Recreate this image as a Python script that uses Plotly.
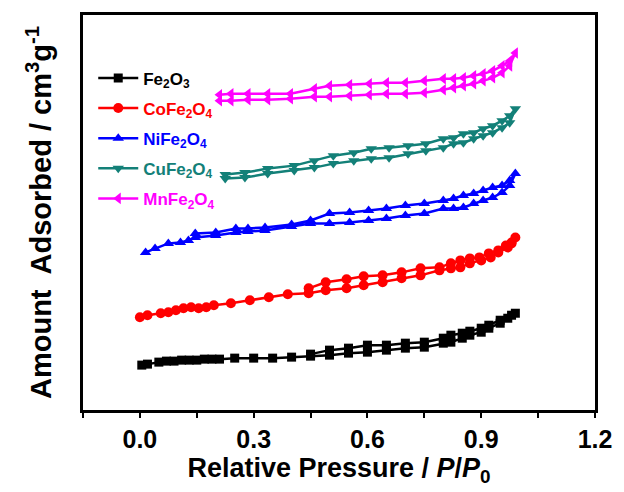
import plotly.graph_objects as go

# ---- data (relative pressure P/P0, amount adsorbed in arbitrary offset units) ----
fe_x = [0.005, 0.02, 0.05, 0.07, 0.09, 0.11, 0.13, 0.15, 0.17, 0.19, 0.21, 0.25, 0.30, 0.35, 0.40, 0.45,
        0.50, 0.55, 0.60, 0.65, 0.70, 0.75, 0.80, 0.82, 0.85, 0.87, 0.90, 0.92, 0.95, 0.97, 0.99,
        0.98, 0.95, 0.92, 0.90, 0.87, 0.85, 0.82, 0.80, 0.75, 0.70, 0.65, 0.60, 0.55, 0.50, 0.45]
fe_y = [45, 46, 48, 49, 49, 50, 50, 50, 51, 51, 51, 52, 52, 52, 53, 54,
        55, 57, 58, 60, 62, 63, 67, 68, 72, 75, 78, 82, 87, 92, 97,
        95, 90, 85, 82, 79, 77, 75, 72, 68, 67, 65, 65, 62, 60, 56]

co_x = [0.0, 0.02, 0.055, 0.075, 0.095, 0.115, 0.135, 0.155, 0.175, 0.195, 0.24, 0.29, 0.34, 0.39, 0.445,
        0.49, 0.545, 0.59, 0.64, 0.69, 0.74, 0.79, 0.82, 0.845, 0.87, 0.90, 0.925, 0.945, 0.97, 0.98, 0.99,
        0.98, 0.965, 0.945, 0.92, 0.895, 0.87, 0.845, 0.82, 0.79, 0.74, 0.69, 0.64, 0.59, 0.545, 0.49, 0.445]
co_y = [93, 95, 97, 98, 100, 102, 103, 102, 103, 105, 107, 110, 113, 116, 117,
        120, 122, 125, 128, 132, 135, 140, 142, 143, 147, 150, 153, 158, 163, 167, 173,
        168, 165, 160, 157, 153, 152, 150, 147, 143, 142, 138, 135, 134, 131, 128, 122]

ni_x = [0.015, 0.04, 0.075, 0.107, 0.128, 0.146, 0.20, 0.253, 0.285, 0.33, 0.40, 0.45, 0.50, 0.553,
        0.603, 0.65, 0.70, 0.75, 0.80, 0.827, 0.853, 0.88, 0.905, 0.93, 0.955, 0.975, 0.99,
        0.975, 0.955, 0.93, 0.905, 0.88, 0.853, 0.827, 0.80, 0.75, 0.70, 0.65, 0.603, 0.553, 0.50,
        0.45, 0.40, 0.33, 0.285, 0.253, 0.20, 0.146]
ni_y = [158, 162, 167, 168, 170, 173, 175, 178, 179, 180, 184, 187, 187, 188,
        190, 192, 195, 197, 202, 202, 203, 207, 210, 213, 218, 225, 237,
        230, 225, 223, 220, 217, 215, 212, 210, 207, 205, 202, 200, 198, 197,
        190, 186, 183, 182, 182, 178, 177]

cu_x = [0.225, 0.277, 0.337, 0.407, 0.46, 0.51, 0.564, 0.61, 0.657, 0.707, 0.754, 0.80, 0.827, 0.853,
        0.88, 0.905, 0.93, 0.955, 0.975, 0.99,
        0.975, 0.955, 0.93, 0.905, 0.88, 0.853, 0.827, 0.80, 0.754, 0.707, 0.657, 0.61, 0.564, 0.51,
        0.46, 0.407, 0.337, 0.277, 0.225]
cu_y = [232, 233, 237, 240, 243, 247, 250, 252, 253, 257, 260, 263, 267, 268,
        272, 275, 278, 283, 288, 302,
        295, 290, 285, 282, 278, 277, 273, 272, 267, 265, 263, 262, 258, 255,
        250, 245, 242, 238, 236]

mn_x = [0.21, 0.24, 0.285, 0.337, 0.397, 0.46, 0.50, 0.553, 0.605, 0.65, 0.70, 0.75, 0.80, 0.827,
        0.853, 0.88, 0.905, 0.93, 0.955, 0.975, 0.99,
        0.975, 0.955, 0.93, 0.905, 0.88, 0.853, 0.827, 0.80, 0.75, 0.70, 0.65, 0.605, 0.553, 0.50,
        0.46, 0.397, 0.337, 0.285, 0.24, 0.21]
mn_y = [310, 310, 311, 311, 312, 314, 314, 315, 316, 317, 317, 318, 321, 323,
        325, 327, 330, 333, 338, 345, 358,
        350, 345, 340, 337, 335, 333, 332, 332, 330, 328, 328, 327, 326, 325,
        322, 317, 317, 317, 317, 316]

x_tick_vals = [0.0, 0.3, 0.6, 0.9, 1.2]
x_tick_text = ["0.0", "0.3", "0.6", "0.9", "1.2"]

series = [
    ("Fe<sub>2</sub>O<sub>3</sub>", fe_x, fe_y, "#000000", "square", 9),
    ("CoFe<sub>2</sub>O<sub>4</sub>", co_x, co_y, "#FF0000", "circle", 10),
    ("NiFe<sub>2</sub>O<sub>4</sub>", ni_x, ni_y, "#0000FF", "triangle-up", 10),
    ("CuFe<sub>2</sub>O<sub>4</sub>", cu_x, cu_y, "#138078", "triangle-down", 10),
    ("MnFe<sub>2</sub>O<sub>4</sub>", mn_x, mn_y, "#FF00FF", "triangle-left", 10),
]

FONT = "Arial, 'Liberation Sans', sans-serif"

fig = go.Figure()
for i, (name, xs, ys, col, sym, sz) in enumerate(series):
    fig.add_trace(go.Scatter(
        x=xs, y=ys, mode="lines+markers",
        name=f'<span style="color:{col}"><b>{name}</b></span>',
        legendgroup=f"g{i}",
        line=dict(color=col, width=2.5),
        marker=dict(symbol=sym, size=sz, color=col, line=dict(width=0)),
    ))

fig.update_layout(
    width=624, height=492,
    margin=dict(l=83, r=24, t=14, b=82),
    paper_bgcolor="white", plot_bgcolor="white",
    font=dict(family=FONT, color="black"),
    showlegend=True,
    legend=dict(x=0.02, y=0.885, xanchor="left", yanchor="top",
                bgcolor="rgba(255,255,255,0)", font=dict(size=17, family=FONT),
                itemwidth=40, tracegroupgap=5),
    xaxis=dict(
        range=[-0.15, 1.2], tickmode="array", tickvals=x_tick_vals, ticktext=x_tick_text,
        ticks="outside", ticklen=5, tickwidth=2, tickcolor="black",
        minor=dict(dtick=0.3, tick0=0.15, ticks="outside", ticklen=5, tickwidth=2, tickcolor="black"),
        showline=True, linewidth=3, linecolor="black", mirror=True,
        showgrid=False, zeroline=False,
        tickfont=dict(size=25, family=FONT, color="black", weight="bold"),
        title=dict(text="<b>Relative Pressure / <i>P</i>/<i>P</i><sub>0</sub></b>",
                   font=dict(size=27, family=FONT), standoff=1),
    ),
    yaxis=dict(
        range=[0, 396], showticklabels=False, ticks="",
        showline=True, linewidth=3, linecolor="black", mirror=True,
        showgrid=False, zeroline=False,
        title=dict(text="<b>Amount  Adsorbed / cm<sup>3</sup>g<sup>-1</sup></b>",
                   font=dict(size=29, family=FONT), standoff=20),
    ),
)

fig.write_html("out.html")
